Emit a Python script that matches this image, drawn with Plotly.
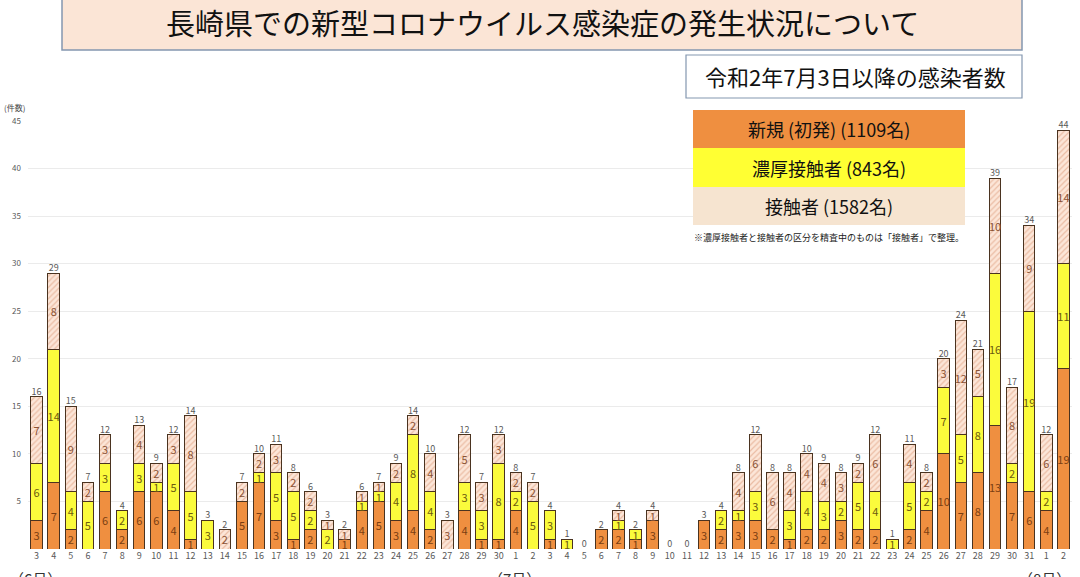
import plotly.graph_objects as go

# ---------------- data ----------------
months = ["6月"] * 28 + ["7月"] * 31 + ["8月"] * 2
day_labels = [3, 4, 5, 6, 7, 8, 9, 10, 11, 12, 13, 14, 15, 16, 17, 18, 19, 20, 21, 22, 23, 24, 25, 26, 27, 28, 29, 30,
              1, 2, 3, 4, 5, 6, 7, 8, 9, 10, 11, 12, 13, 14, 15, 16, 17, 18, 19, 20, 21, 22, 23, 24, 25, 26, 27, 28, 29, 30, 31,
              1, 2]

new_cases = [3, 7, 2, 0, 6, 2, 6, 6, 4, 1, 0, 0, 5, 7, 3, 1, 2, 0, 1, 4, 5, 3, 4, 2, 0, 4, 1, 1,
             4, 0, 1, 0, 0, 2, 2, 1, 3, 0, 0, 3, 2, 3, 3, 2, 1, 2, 2, 3, 2, 2, 0, 2, 4, 10, 7, 8, 13, 7, 6,
             4, 19]
close_contacts = [6, 14, 4, 5, 3, 2, 3, 1, 5, 5, 3, 0, 0, 1, 5, 5, 2, 2, 0, 1, 1, 4, 8, 4, 0, 3, 3, 8,
                  2, 5, 3, 1, 0, 0, 1, 1, 0, 0, 0, 0, 2, 1, 3, 0, 3, 4, 3, 2, 5, 4, 1, 5, 2, 7, 5, 8, 16, 2, 19,
                  2, 11]
contacts = [7, 8, 9, 2, 3, 0, 4, 2, 3, 8, 0, 2, 2, 2, 3, 2, 2, 1, 1, 1, 1, 2, 2, 4, 3, 5, 3, 3,
            2, 2, 0, 0, 0, 0, 1, 0, 1, 0, 0, 0, 0, 4, 6, 6, 4, 4, 4, 3, 2, 6, 0, 4, 2, 3, 12, 5, 10, 8, 9,
            6, 14]

legend_labels = ["新規 (初発) (1109名)", "濃厚接触者 (843名)", "接触者 (1582名)"]
title_text = "長崎県での新型コロナウイルス感染症の発生状況について"
subtitle_text = "令和2年7月3日以降の感染者数"
note_text = "※濃厚接触者と接触者の区分を精査中のものは「接触者」で整理。"
month_labels = ["（6月）", "（7月）", "（8月）"]

# ---------------- derived ----------------
cats = [f"{m}{d}日" for m, d in zip(months, day_labels)]
totals = [a + b + c for a, b, c in zip(new_cases, close_contacts, contacts)]

W, H = 1080, 577
ML, MR, MT, MB = 28, 8, 121, 28
PW, PH = W - ML - MR, H - MT - MB


def px(x):
    return (x - ML) / PW


def py(y):
    return (H - MB - y) / PH


FONT = "Noto Sans CJK JP"
ORANGE = "#EF8F40"
YELLOW = "#FBFB3C"
PEACH = "#FCE6D8"
EDGE = "#4A3320"


def seg_text(vals):
    return [str(v) if v > 0 else "" for v in vals]


fig = go.Figure()
fig.add_trace(go.Bar(
    x=cats, y=new_cases, text=seg_text(new_cases), name=legend_labels[0],
    marker=dict(color=ORANGE, line=dict(color=EDGE, width=1)),
    textposition="inside", insidetextanchor="middle", textangle=0,
    textfont=dict(size=11, color="#7A3E12", family=FONT), hoverinfo="x+y"))
fig.add_trace(go.Bar(
    x=cats, y=close_contacts, text=seg_text(close_contacts), name=legend_labels[1],
    marker=dict(color=YELLOW, line=dict(color=EDGE, width=1)),
    textposition="inside", insidetextanchor="middle", textangle=0,
    textfont=dict(size=11, color="#6B5A10", family=FONT), hoverinfo="x+y"))
fig.add_trace(go.Bar(
    x=cats, y=contacts, text=seg_text(contacts), name=legend_labels[2],
    marker=dict(color=PEACH, line=dict(color=EDGE, width=1),
                pattern=dict(shape="/", fgcolor="#D89270", bgcolor=PEACH, size=4, solidity=0.3)),
    textposition="inside", insidetextanchor="middle", textangle=0,
    textfont=dict(size=11, color="#8A5234", family=FONT), hoverinfo="x+y"))
fig.add_trace(go.Scatter(
    x=cats, y=totals, text=[str(t) for t in totals], mode="text",
    textposition="top center", cliponaxis=False,
    textfont=dict(size=9, color="#595959", family=FONT), hoverinfo="skip"))

shapes = []
annotations = []

# title box
shapes.append(dict(type="rect", xref="paper", yref="paper", x0=px(62), x1=px(1022), y0=py(50), y1=py(-2),
                   fillcolor="#FBE5D6", line=dict(color="#8497B0", width=1.5), layer="above"))
annotations.append(dict(xref="paper", yref="paper", x=px(542), y=py(22), text=title_text, showarrow=False,
                        font=dict(size=29, color="#111111", family=FONT), xanchor="center", yanchor="middle"))
# subtitle box
shapes.append(dict(type="rect", xref="paper", yref="paper", x0=px(686), x1=px(1022), y0=py(98), y1=py(55),
                   fillcolor="white", line=dict(color="#8497B0", width=1.2), layer="above"))
annotations.append(dict(xref="paper", yref="paper", x=px(855), y=py(76), text=subtitle_text, showarrow=False,
                        font=dict(size=22, color="#111111", family=FONT), xanchor="center", yanchor="middle"))

# legend box
rows = [(110, 148, ORANGE), (148, 187, "#FFFF33"), (187, 225, "#F6E4D0")]
for (y0, y1, col), lab in zip(rows, legend_labels):
    shapes.append(dict(type="rect", xref="paper", yref="paper", x0=px(693), x1=px(965), y0=py(y1), y1=py(y0),
                       fillcolor=col, line=dict(width=0), layer="above"))
    annotations.append(dict(xref="paper", yref="paper", x=px(829), y=py((y0 + y1) / 2), text=lab,
                            showarrow=False, font=dict(size=18, color="#111111", family=FONT),
                            xanchor="center", yanchor="middle"))
annotations.append(dict(xref="paper", yref="paper", x=px(966), y=py(238), text=note_text, showarrow=False,
                        font=dict(size=9, color="#222222", family=FONT), xanchor="right", yanchor="middle"))

# axis unit
annotations.append(dict(xref="paper", yref="paper", x=px(2), y=py(107), text="(件数)", showarrow=False,
                        font=dict(size=8, color="#444444", family=FONT), xanchor="left", yanchor="middle"))

# month labels (clipped at bottom like the reference)
for m_lab, cat in zip(month_labels, [cats[0], cats[28], cats[59]]):
    annotations.append(dict(xref="x", yref="paper", x=cat, y=py(566), text=m_lab, showarrow=False,
                            font=dict(size=15, color="#333333", family=FONT), xanchor="left", yanchor="top",
                            xshift=-30))

fig.update_layout(
    width=W, height=H, margin=dict(l=ML, r=MR, t=MT, b=MB, autoexpand=False),
    barmode="stack", bargap=0.33, showlegend=False,
    plot_bgcolor="white", paper_bgcolor="white",
    uniformtext=dict(minsize=11, mode="show"),
    font=dict(family=FONT),
    shapes=shapes, annotations=annotations,
)
fig.update_xaxes(type="category", range=[-0.5, len(cats) - 0.5], autorange=False,
                 tickmode="array", tickvals=cats, ticktext=[str(d) for d in day_labels],
                 tickfont=dict(size=9, color="#595959", family=FONT), showgrid=False, showline=False,
                 ticks="", tickangle=0)
fig.update_yaxes(range=[0, 45], tickmode="array", tickvals=[5, 10, 15, 20, 25, 30, 35, 40, 45],
                 gridcolor="#EBEBEB", gridwidth=1, zeroline=False, showline=False,
                 tickfont=dict(size=8, color="#595959", family=FONT), ticks="", ticklabelstandoff=6)

fig.write_html("out.html")
